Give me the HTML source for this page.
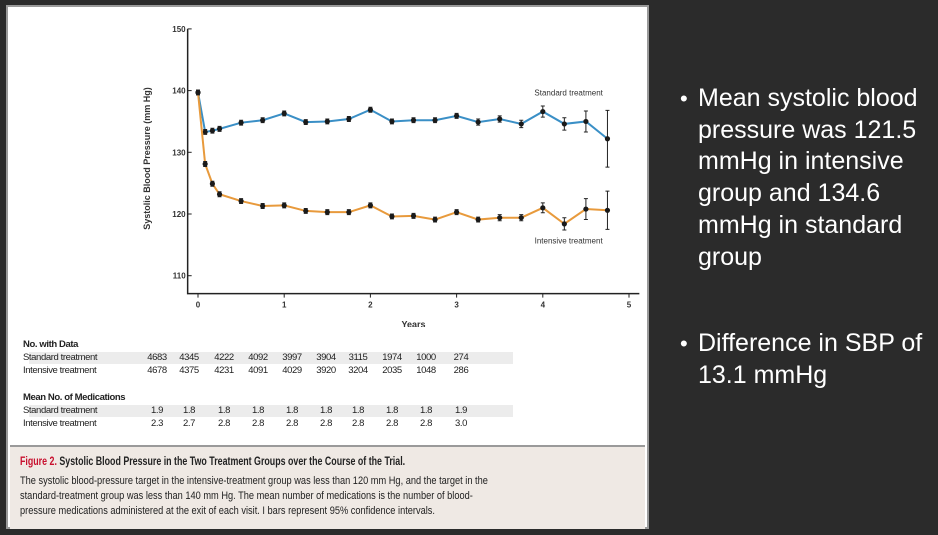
<!DOCTYPE html>
<html><head><meta charset="utf-8"><style>
body{margin:0;width:938px;height:535px;background:#2b2b2b;position:relative;overflow:hidden;font-family:"Liberation Sans",sans-serif}
#panel{position:absolute;left:6px;top:5px;width:643px;height:524px;background:#fff;border:2px solid #9a9a9a;box-sizing:border-box}
.t{position:absolute;font-size:9.5px;color:#222;white-space:nowrap;letter-spacing:-0.4px}
.b{font-weight:bold}
.band{position:absolute;left:21px;width:484px;height:12px;background:#ececec}
#cap{position:absolute;left:2px;top:438px;width:635px;height:82px;background:#efe9e4;border-top:2px solid #9a9a9a}
.bl{position:absolute;left:698px;color:#fff;font-size:25px;white-space:nowrap}
.dot{position:absolute;left:680px;color:#fff;font-size:22px}
.cl{position:absolute;left:10px;white-space:nowrap;transform-origin:left top;color:#222}
</style></head><body>
<div id="panel">
<svg id="chart" width="639" height="320" style="position:absolute;left:0;top:0"></svg>
<div class="t b" style="left:15px;top:332px">No. with Data</div>
<div class="band" style="top:345px"></div>
<div class="t" style="left:15px;top:345px">Standard treatment</div>
<div class="t" style="left:15px;top:358px">Intensive treatment</div>
<div class="t b" style="left:15px;top:385px">Mean No. of Medications</div>
<div class="band" style="top:398px"></div>
<div class="t" style="left:15px;top:398px">Standard treatment</div>
<div class="t" style="left:15px;top:411px">Intensive treatment</div>
<div id="cap">
<div class="cl" style="top:9px;font-size:11.5px;font-weight:bold;transform:scaleX(0.77)"><span style="color:#c8102e">Figure 2.</span> Systolic Blood Pressure in the Two Treatment Groups over the Course of the Trial.</div>
<div class="cl" style="top:28px;font-size:11px;transform:scaleX(0.84)">The systolic blood-pressure target in the intensive-treatment group was less than 120 mm Hg, and the target in the</div>
<div class="cl" style="top:43px;font-size:11px;transform:scaleX(0.84)">standard-treatment group was less than 140 mm Hg. The mean number of medications is the number of blood-</div>
<div class="cl" style="top:58px;font-size:11px;transform:scaleX(0.84)">pressure medications administered at the exit of each visit. I bars represent 95% confidence intervals.</div>
</div>
</div>
<div class="dot" style="top:86px">•</div>
<div class="bl" style="top:84px">Mean systolic blood</div>
<div class="bl" style="top:116px">pressure was 121.5</div>
<div class="bl" style="top:147px">mmHg in intensive</div>
<div class="bl" style="top:179px">group and 134.6</div>
<div class="bl" style="top:211px">mmHg in standard</div>
<div class="bl" style="top:243px">group</div>
<div class="dot" style="top:331px">•</div>
<div class="bl" style="top:329px">Difference in SBP of</div>
<div class="bl" style="top:361px">13.1 mmHg</div>
<script>
const years=[0,0.083,0.167,0.25,0.5,0.75,1,1.25,1.5,1.75,2,2.25,2.5,2.75,3,3.25,3.5,3.75,4,4.25,4.5,4.75];
const stdVals=[139.7,133.3,133.5,133.8,134.8,135.2,136.3,134.9,135.0,135.4,136.9,135.0,135.2,135.2,135.9,134.9,135.4,134.6,136.6,134.6,135.0,132.2];
const stdErr=[0.4,0.4,0.4,0.4,0.4,0.4,0.4,0.4,0.4,0.4,0.4,0.4,0.4,0.4,0.4,0.5,0.5,0.6,0.9,1.0,1.7,4.6];
const intVals=[139.7,128.1,124.9,123.2,122.1,121.3,121.4,120.5,120.3,120.3,121.4,119.6,119.7,119.1,120.3,119.1,119.4,119.4,121.0,118.4,120.8,120.6];
const intErr=[0.4,0.4,0.4,0.4,0.4,0.4,0.4,0.4,0.4,0.4,0.4,0.4,0.4,0.4,0.4,0.4,0.5,0.5,0.8,1.0,1.7,3.1];
const yTicks=[110,120,130,140,150];
const xTicks=[0,1,2,3,4,5];
const nStd=[4683,4345,4222,4092,3997,3904,3115,1974,1000,274];
const nInt=[4678,4375,4231,4091,4029,3920,3204,2035,1048,286];
const mStd=["1.9","1.8","1.8","1.8","1.8","1.8","1.8","1.8","1.8","1.9"];
const mInt=["2.3","2.7","2.8","2.8","2.8","2.8","2.8","2.8","2.8","3.0"];
const OX=-6,OY=-5;
const xS=v=>196+OX+v*86.2, yS=v=>212+OY-(v-120)*6.17;
const ns="http://www.w3.org/2000/svg", svg=document.getElementById('chart');
function mk(t,a){const e=document.createElementNS(ns,t);for(const k in a)e.setAttribute(k,a[k]);svg.appendChild(e);return e;}
const ax=mk('path',{d:`M${xS(-0.12)} ${yS(150)}V${yS(107.1)}H${xS(5.12)}`,stroke:'#222','stroke-width':1.5,fill:'none'});

yTicks.forEach(v=>{mk('line',{x1:xS(-0.12),x2:xS(-0.12)+4,y1:yS(v),y2:yS(v),stroke:'#222'});
const t=mk('text',{x:xS(-0.12)-2,y:yS(v)+3,'font-size':8,'font-weight':'bold','text-anchor':'end',fill:'#333'});t.textContent=v;
});
xTicks.forEach(v=>{mk('line',{x1:xS(v),x2:xS(v),y1:yS(107.1),y2:yS(107.1)+4,stroke:'#222'});
const t=mk('text',{x:xS(v),y:yS(107.1)+14,'font-size':8,'font-weight':'bold','text-anchor':'middle',fill:'#333'});t.textContent=v;
});
let t=mk('text',{x:xS(2.5),y:yS(107.1)+34,'font-size':9,'font-weight':'bold','text-anchor':'middle',fill:'#333'});t.textContent='Years';

t=mk('text',{transform:`translate(142,${yS(129)}) rotate(-90)`,'font-size':9,'font-weight':'bold','text-anchor':'middle',fill:'#333'});t.textContent='Systolic Blood Pressure (mm Hg)';

function series(vals,err,col,name){
const p=mk('polyline',{points:years.map((y,i)=>xS(y)+','+yS(vals[i])).join(' '),stroke:col,'stroke-width':2,fill:'none'});

years.forEach((y,i)=>{const x=xS(y),a=yS(vals[i]+err[i]),b=yS(vals[i]-err[i]);
mk('path',{d:`M${x} ${a}V${b}M${x-2} ${a}h4M${x-2} ${b}h4`,stroke:'#222','stroke-width':1,fill:'none'});
const c=mk('circle',{cx:x,cy:yS(vals[i]),r:2.6,fill:'#1a1a1a'});
});}
series(stdVals,stdErr,'#3a8fc6','standard');
series(intVals,intErr,'#e89a3c','intensive');
t=mk('text',{x:xS(4.3),y:yS(139.2),'font-size':8,'text-anchor':'middle',fill:'#333'});t.textContent='Standard treatment';

t=mk('text',{x:xS(4.3),y:yS(115.2),'font-size':8,'text-anchor':'middle',fill:'#333'});t.textContent='Intensive treatment';

const cols=[155,187,222,256,290,324,356,390,424,459];
[[nStd,345],[nInt,358],[mStd,398],[mInt,411]].forEach(([arr,top])=>arr.forEach((v,i)=>{
const d=document.createElement('div');d.className='t';d.textContent=v;
d.style.left=(cols[i]+OX-12)+'px';d.style.width='24px';d.style.textAlign='center';d.style.top=top+'px';


document.getElementById('panel').appendChild(d);}));
</script>
</body></html>
